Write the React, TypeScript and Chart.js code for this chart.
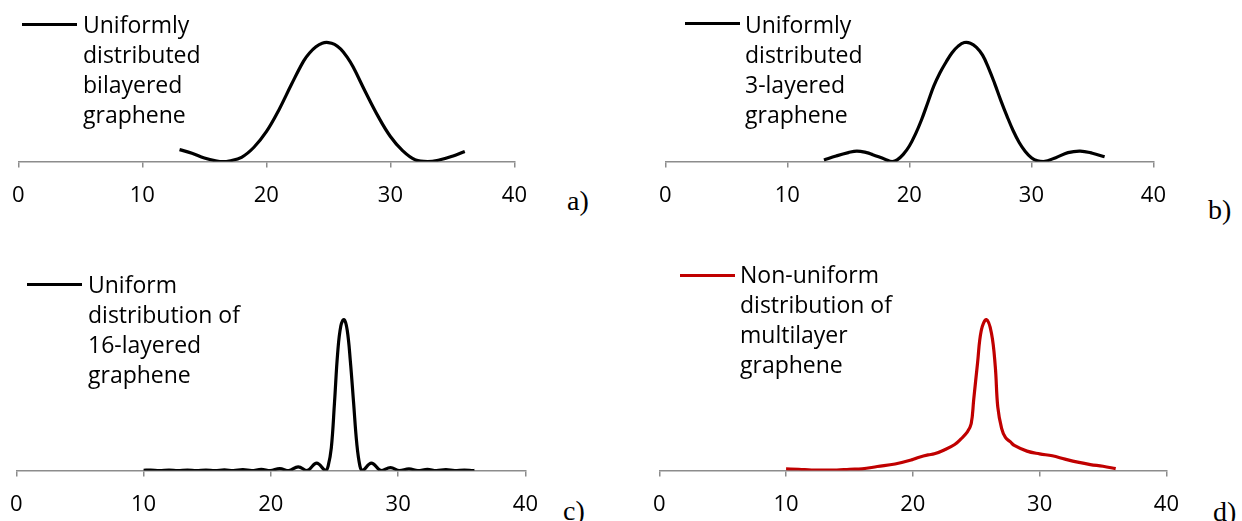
import React, { useEffect, useRef } from "react";
import { Chart, registerables } from "chart.js";

Chart.register(...registerables);

// ---- data (x = position, y = relative intensity) ----
const xTicks = [0, 10, 20, 30, 40];

const bilayerX = [13, 14, 15, 16, 16.5, 17, 18, 19, 20, 21, 22, 23, 23.5, 24, 24.5, 25, 25.5, 26, 26.5, 27, 28, 29, 30, 31, 32, 33, 34, 35, 36];
const bilayerY = [0.1, 0.07, 0.03, 0.005, 0, 0.005, 0.036, 0.12, 0.25, 0.43, 0.64, 0.84, 0.91, 0.96, 0.99, 0.995, 0.98, 0.94, 0.875, 0.79, 0.58, 0.38, 0.21, 0.09, 0.015, 0, 0.015, 0.045, 0.085];

const trilayerX = [13, 14, 15, 15.7, 16.5, 17, 18, 18.6, 19, 19.5, 20, 20.5, 21, 21.5, 22, 22.5, 23, 23.5, 24, 24.5, 25, 25.5, 26, 26.5, 27, 27.5, 28, 28.5, 29, 29.5, 30, 30.5, 31, 32, 33, 34, 35, 36];
const trilayerY = [0.014, 0.047, 0.075, 0.088, 0.075, 0.058, 0.02, 0, 0.014, 0.06, 0.13, 0.23, 0.35, 0.49, 0.63, 0.74, 0.83, 0.91, 0.965, 0.995, 0.99, 0.955, 0.89, 0.78, 0.65, 0.51, 0.38, 0.26, 0.16, 0.085, 0.033, 0.006, 0, 0.033, 0.075, 0.088, 0.07, 0.04];

const layer16X = [10, 10.55, 11.25, 12.0, 12.7, 13.45, 14.15, 14.9, 15.6, 16.35, 17.05, 17.8, 18.5, 19.25, 19.95, 20.7, 21.4, 22.15, 22.85, 23.6, 24.3, 24.5, 24.75, 25.0, 25.25, 25.5, 25.75, 26.0, 26.25, 26.5, 26.75, 27.0, 27.2, 27.9, 28.65, 29.4, 30.1, 30.85, 31.55, 32.3, 33.0, 33.75, 34.45, 35.2, 35.9, 36];
const layer16Y = [0.002, 0.003, 0, 0.003, 0, 0.004, 0, 0.004, 0, 0.005, 0, 0.006, 0, 0.008, 0, 0.013, 0, 0.025, 0, 0.05, 0, 0.03, 0.15, 0.45, 0.78, 0.96, 1.0, 0.93, 0.72, 0.45, 0.18, 0.03, 0, 0.05, 0, 0.02, 0, 0.012, 0, 0.008, 0, 0.006, 0, 0.004, 0, 0.001];

const multiX = [10, 11, 12, 13, 14, 15, 16, 17.2, 18.6, 19.9, 20.5, 21.2, 21.7, 22.5, 23.3, 23.8, 24.3, 24.6, 24.8, 25.1, 25.4, 25.8, 26.2, 26.5, 26.7, 27.0, 27.3, 27.7, 28, 29, 30, 31, 32, 33, 34, 35, 36];
const multiY = [0.011, 0.009, 0.004, 0.004, 0.004, 0.009, 0.012, 0.027, 0.044, 0.071, 0.089, 0.104, 0.111, 0.138, 0.173, 0.21, 0.256, 0.31, 0.47, 0.71, 0.93, 1.0, 0.91, 0.69, 0.42, 0.28, 0.22, 0.19, 0.167, 0.129, 0.111, 0.098, 0.076, 0.056, 0.04, 0.029, 0.013];

const legendA = ["Uniformly", "distributed", "bilayered", "graphene"];
const legendB = ["Uniformly", "distributed", "3-layered", "graphene"];
const legendC = ["Uniform", "distribution of", "16-layered", "graphene"];
const legendD = ["Non-uniform", "distribution of", "multilayer", "graphene"];
const panelLetters = ["a)", "b)", "c)", "d)"];

const FONT = "'Open Sans', 'Noto Sans', sans-serif";
const AXIS = "#8c8c8c";

type PanelProps = {
  xs: number[];
  ys: number[];
  color: string;
  left: number;
  top: number;
  width: number;
  height: number;
};

function PanelChart({ xs, ys, color, left, top, width, height }: PanelProps) {
  const ref = useRef<HTMLCanvasElement>(null);
  useEffect(() => {
    const chart = new Chart(ref.current!, {
      type: "line",
      data: {
        datasets: [
          {
            data: xs.map((x, i) => ({ x, y: ys[i] })),
            borderColor: color,
            borderWidth: 3.2,
            pointRadius: 0,
            tension: 0.4,
            fill: false,
          },
        ],
      },
      options: {
        responsive: false,
        animation: false,
        layout: { padding: 0 },
        plugins: { legend: { display: false }, tooltip: { enabled: false } },
        scales: {
          x: {
            type: "linear",
            min: 0,
            max: 40,
            afterBuildTicks: (s: any) => {
              s.ticks = xTicks.map((v) => ({ value: v }));
            },
            grid: {
              display: true,
              drawOnChartArea: false,
              drawTicks: true,
              tickLength: 6,
              color: AXIS,
              lineWidth: 1.5,
            },
            border: { display: true, color: AXIS, width: 1.5 },
            ticks: {
              color: "#000",
              padding: 15,
              maxRotation: 0,
              autoSkip: false,
              font: { size: 22, family: FONT },
            },
          },
          y: { display: false, min: 0, max: 1.15 },
        },
      },
    } as any);
    return () => chart.destroy();
  }, []);
  return (
    <canvas
      ref={ref}
      width={width}
      height={height}
      style={{ position: "absolute", left, top, width, height, display: "block" }}
    />
  );
}

function Legend({ lines, color, lineLeft, lineTop, textLeft, textTop }: any) {
  return (
    <>
      <div style={{ position: "absolute", left: lineLeft, top: lineTop, width: 55, height: 3, background: color }} />
      <div
        style={{
          position: "absolute",
          left: textLeft,
          top: textTop,
          fontFamily: FONT,
          fontSize: 23,
          lineHeight: "30px",
          color: "#000",
          whiteSpace: "nowrap",
        }}
      >
        {lines.map((l: string, i: number) => (
          <div key={i}>{l}</div>
        ))}
      </div>
    </>
  );
}

function Letter({ text, left, top }: { text: string; left: number; top: number }) {
  return (
    <div
      style={{
        position: "absolute",
        left,
        top,
        fontFamily: "'Liberation Serif', 'Times New Roman', serif",
        fontSize: 28,
        lineHeight: "28px",
        color: "#000",
        whiteSpace: "nowrap",
      }}
    >
      {text}
    </div>
  );
}

export default function App() {
  return (
    <div style={{ position: "absolute", left: 0, top: 0, width: 1242, height: 521, overflow: "hidden", background: "#fff" }}>
      <PanelChart xs={bilayerX} ys={bilayerY} color="#000" left={-3} top={24} width={545} height={200} />
      <PanelChart xs={trilayerX} ys={trilayerY} color="#000" left={644} top={24} width={537} height={200} />
      <PanelChart xs={layer16X} ys={layer16Y} color="#000" left={-5} top={297} width={558} height={236} />
      <PanelChart xs={multiX} ys={multiY} color="#c00000" left={638} top={297} width={556} height={236} />

      <Legend lines={legendA} color="#000" lineLeft={22} lineTop={22.5} textLeft={83} textTop={9} />
      <Legend lines={legendB} color="#000" lineLeft={685} lineTop={21.5} textLeft={745} textTop={9} />
      <Legend lines={legendC} color="#000" lineLeft={27} lineTop={282.5} textLeft={88} textTop={269} />
      <Legend lines={legendD} color="#c00000" lineLeft={680} lineTop={273.5} textLeft={740} textTop={259} />

      <Letter text={panelLetters[0]} left={567} top={186.5} />
      <Letter text={panelLetters[1]} left={1208} top={195.5} />
      <Letter text={panelLetters[2]} left={563} top={496.5} />
      <Letter text={panelLetters[3]} left={1213} top={497.5} />
    </div>
  );
}
